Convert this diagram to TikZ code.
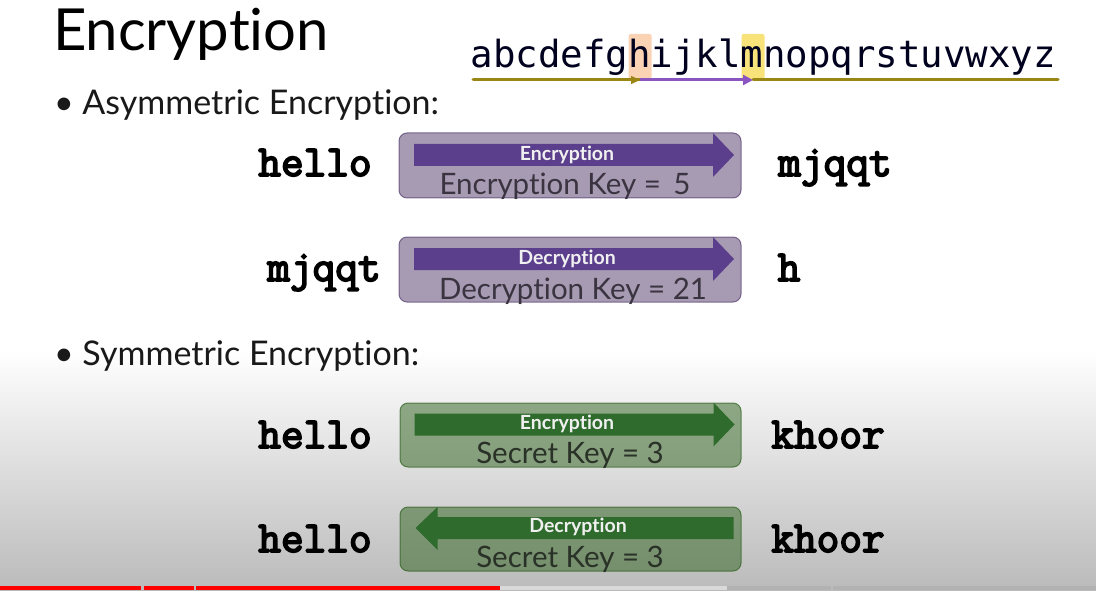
\documentclass[tikz,border=0pt]{standalone}
\usepackage{fontspec}
\setmainfont{Lato}[Ligatures=NoCommon]
\newfontfamily\alphafont{DejaVu Sans Mono}
\newfontfamily\codefont{Latin Modern Mono}[FakeBold=4]
\usetikzlibrary{arrows.meta,calc}
\definecolor{olivec}{HTML}{9A8614}
\definecolor{purpc}{HTML}{8A55C0}
\definecolor{hlorange}{HTML}{FAD2B4}
\definecolor{hlyellow}{HTML}{F8E27A}
\definecolor{purparrow}{HTML}{5B3F8C}
\definecolor{purpbox}{HTML}{51396A}
\definecolor{greenarrow}{HTML}{2E6B2C}
\definecolor{greenbox}{HTML}{2C601C}
\definecolor{keytext}{HTML}{3A3440}
\definecolor{keytextg}{HTML}{2A3127}
\begin{document}
\begin{tikzpicture}[x=1pt,y=-1pt,
  every node/.style={inner sep=0pt,outer sep=0pt},
  title/.style={font=\fontsize{58}{60}\selectfont,anchor=base west,text=black},
  bullet/.style={font=\fontsize{34}{36}\selectfont,anchor=base west,text=black!90},
  word/.style={font=\codefont\fontsize{44}{46}\selectfont,anchor=base,text=black},
  pbox/.style={draw=purpbox,draw opacity=0.7,fill=purpbox,fill opacity=0.5,rounded corners=8pt,line width=1pt,minimum width=342pt,minimum height=65pt},
  gbox/.style={draw=greenbox,draw opacity=0.7,fill=greenbox,fill opacity=0.5,rounded corners=8pt,line width=1pt,minimum width=341pt,minimum height=64pt},
  albl/.style={font=\bfseries\fontsize{19.5}{21}\selectfont,text=white!94!black,anchor=center},
  klbl/.style={font=\fontsize{29.5}{31}\selectfont,anchor=base},
  hl/.style={rounded corners=2pt},
  rarrowshape/.pic={\fill[pic actions] (-156,-21.5) -- (143,-21.5) -- (143,-32.5) -- (164,-10.5) -- (143,11.5) -- (143,0.5) -- (-156,0.5) -- cycle;},
  larrowshape/.pic={\fill[pic actions] (163,-22) -- (-133,-22) -- (-133,-32) -- (-155,-11) -- (-133,11) -- (-133,0) -- (163,0) -- cycle;}
]
\useasboundingbox (0,0) rectangle (1096,591);
\fill[white] (0,0) rectangle (1096,591);
\shade[top color=white,bottom color=black!27] (0,350) rectangle (1096,591);

% title and bullets
\node[title] (title) at (53,51) {Encryption};
\node[bullet] (asym) at (54,115) {\textbullet\ Asymmetric Encryption:};
\node[bullet] (sym) at (54,365) {\textbullet\ Symmetric Encryption:};

% alphabet
\fill[hlorange,hl] (628.5,34) rectangle (651.5,79);
\fill[hlyellow,hl] (741.5,34) rectangle (764.5,79);
\node[font=\alphafont\fontsize{37.4}{40}\selectfont,anchor=base west,text=black!80!blue!60!black] (alpha) at (470.5,68) {abcdefghijklmnopqrstuvwxyz};
\coordinate (aL) at (473,80);
\coordinate (hC) at (640,80);
\coordinate (mC) at (753,80);
\coordinate (aR) at (1058,80);
\coordinate (hA) at (620,80);
\draw[olivec,line width=3pt,line cap=round] (aL) -- (hC);
\draw[olivec,line width=3pt,line cap=round] (mC) -- (aR);
\draw[olivec,line width=1.5pt,-{Triangle[length=9pt,width=8pt]}] (hA) -- (hC);
\draw[purpc,line width=3pt,-{Triangle[length=10pt,width=10pt]}] (hC) -- (mC);

% row 1
\node[pbox] (b1) at (570,165.5) {};
\pic[fill=purparrow] at (b1.center) {rarrowshape};
\node[albl] (b1a) at (567,155) {Encryption};
\node[klbl,text=keytext] (b1k) at (565,195) {Encryption Key = \,5};
\node[word] (w1l) at (315,176) {hello};
\node[word] (w1r) at (835,176) {mjqqt};

% row 2
\node[pbox] (b2) at (570,269.5) {};
\pic[fill=purparrow] at (b2.center) {rarrowshape};
\node[albl] (b2a) at (567,259) {Decryption};
\node[klbl,text=keytext] (b2k) at (573,299) {Decryption Key = 21};
\node[word] (w2l) at (324,281) {mjqqt};
\node[word] (w2r) at (789,281) {h};

% row 3
\node[gbox] (b3) at (570.5,435) {};
\pic[fill=greenarrow] at (b3.center) {rarrowshape};
\node[albl] (b3a) at (567,424) {Encryption};
\node[klbl,text=keytextg] (b3k) at (570,463) {Secret Key = 3};
\node[word] (w3l) at (315,448) {hello};
\node[word] (w3r) at (828,448) {khoor};

% row 4
\node[gbox] (b4) at (570.5,539) {};
\pic[fill=greenarrow] at (b4.center) {larrowshape};
\node[albl] (b4a) at (578,527) {Decryption};
\node[klbl,text=keytextg] (b4k) at (570,567) {Secret Key = 3};
\node[word] (w4l) at (315,552) {hello};
\node[word] (w4r) at (828,552) {khoor};

% progress bar
\fill[red] (0,586) rectangle (141,590);
\fill[red] (144,586) rectangle (194,590);
\fill[red] (196,586) rectangle (500,590);
\fill[black!15] (500,586) rectangle (727,590);
\fill[black!30] (727,586) rectangle (831,590);
\fill[black!30] (833,586) rectangle (1096,590);
\end{tikzpicture}
\end{document}
